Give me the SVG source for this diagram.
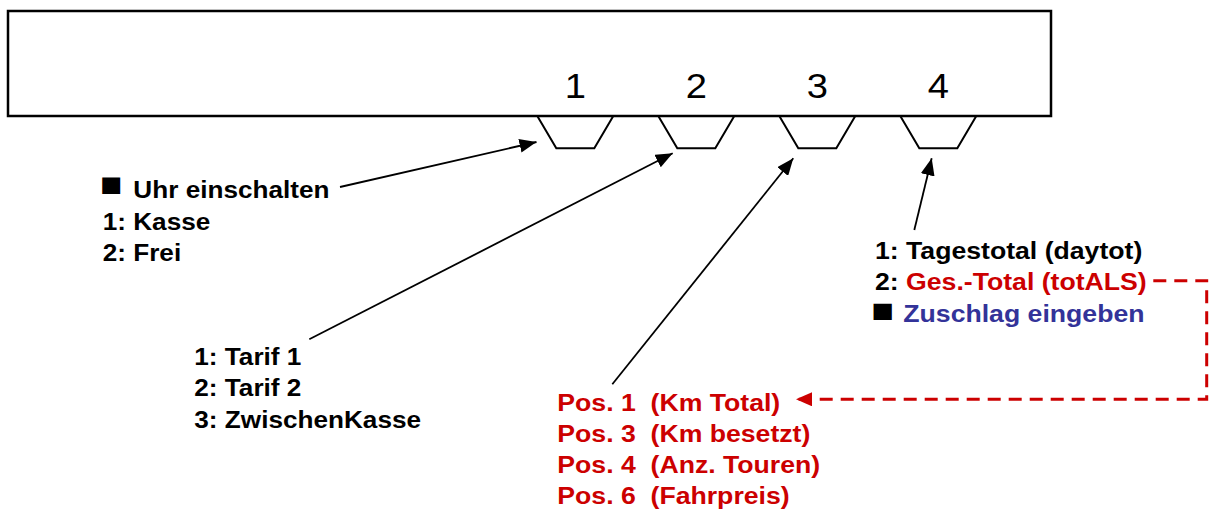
<svg xmlns="http://www.w3.org/2000/svg" width="1213" height="512" viewBox="0 0 1213 512">
<style>
  .lbl { font-family: "Liberation Sans", Arial, sans-serif; font-weight: bold; font-size: 24px; fill: #000; }
  .bul { font-family: "Liberation Sans", Arial, sans-serif; font-size: 34px; fill: #000; }
  .num { font-family: "Liberation Sans", Arial, sans-serif; font-size: 35px; fill: #000; text-anchor: middle; }
  .red { fill: #CC0000; }
  .blue { fill: #333399; }
  .conn { stroke: #000; stroke-width: 1.8; fill: none; }
  .dash { stroke: #CC0000; stroke-width: 3; fill: none; stroke-dasharray: 13 8; }
  .trap { stroke: #000; stroke-width: 2; fill: none; }
</style>
<defs>
  <marker id="ah" markerUnits="userSpaceOnUse" markerWidth="18" markerHeight="14" refX="17" refY="7" orient="auto">
    <path d="M0,0 L17,7 L0,14 z" fill="#000"/>
  </marker>
  <marker id="ahr" markerUnits="userSpaceOnUse" markerWidth="18" markerHeight="14" refX="16" refY="7" orient="auto">
    <path d="M0,0 L16,7 L0,14 z" fill="#CC0000"/>
  </marker>
</defs>
<rect width="1213" height="512" fill="#fff"/>

<g id="device">
  <rect x="8" y="11" width="1043" height="105" fill="#fff" stroke="#000" stroke-width="2.5"/>
  <polyline class="trap" points="537.3,116 556.3,148.3 594.3,148.3 613.3,116"/>
  <polyline class="trap" points="658.3,116 677.3,148.3 715.3,148.3 734.3,116"/>
  <polyline class="trap" points="779.3,116 798.3,148.3 836.3,148.3 855.3,116"/>
  <polyline class="trap" points="900.3,116 919.3,148.3 957.3,148.3 976.3,116"/>
  <g transform="translate(575.3,0) scale(1.09,1)"><text class="num" x="0" y="98">1</text></g>
  <g transform="translate(696.3,0) scale(1.09,1)"><text class="num" x="0" y="98">2</text></g>
  <g transform="translate(817.3,0) scale(1.09,1)"><text class="num" x="0" y="98">3</text></g>
  <g transform="translate(938.3,0) scale(1.09,1)"><text class="num" x="0" y="98">4</text></g>
</g>

<g id="label-1" transform="translate(102.7,0) scale(1.09,1)">
  <text class="bul" x="-2.5" y="196.5">■</text>
  <text class="lbl" x="28.1" y="198.5">Uhr einschalten</text>
  <text class="lbl" x="0" y="229.8">1: Kasse</text>
  <text class="lbl" x="0" y="261">2: Frei</text>
</g>

<g id="label-2" transform="translate(194.3,0) scale(1.09,1)">
  <text class="lbl" x="0" y="365">1: Tarif 1</text>
  <text class="lbl" x="0" y="396.5">2: Tarif 2</text>
  <text class="lbl" x="0" y="428">3: ZwischenKasse</text>
</g>

<g id="label-3" transform="translate(557.3,0) scale(1.11,1)">
  <text class="lbl red" x="0" y="411.5" xml:space="preserve">Pos. 1  (Km Total)</text>
  <text class="lbl red" x="0" y="442.5" xml:space="preserve">Pos. 3  (Km besetzt)</text>
  <text class="lbl red" x="0" y="473.5" xml:space="preserve">Pos. 4  (Anz. Touren)</text>
  <text class="lbl red" x="0" y="504.5" xml:space="preserve">Pos. 6  (Fahrpreis)</text>
</g>

<g id="label-4" transform="translate(875,0) scale(1.11,1)">
  <text class="lbl" x="0" y="259">1: Tagestotal (daytot)</text>
  <text class="lbl" x="0" y="290.5">2: <tspan class="red">Ges.-Total (totALS)</tspan></text>
  <text class="bul" x="-3.4" y="322.5">■</text>
  <text class="lbl blue" x="25.5" y="322">Zuschlag eingeben</text>
</g>

<g id="connectors">
  <line class="conn" x1="340" y1="187" x2="536.5" y2="142" marker-end="url(#ah)"/>
  <line class="conn" x1="309.3" y1="339.3" x2="672.7" y2="153.3" marker-end="url(#ah)"/>
  <line class="conn" x1="612.3" y1="384.3" x2="793.3" y2="158.3" marker-end="url(#ah)"/>
  <line class="conn" x1="914.3" y1="230" x2="931.7" y2="158.3" marker-end="url(#ah)"/>
  <path class="dash" d="M1153.3,280.7 H1206.7 V399.3 H796" marker-end="url(#ahr)"/>
</g>
</svg>
